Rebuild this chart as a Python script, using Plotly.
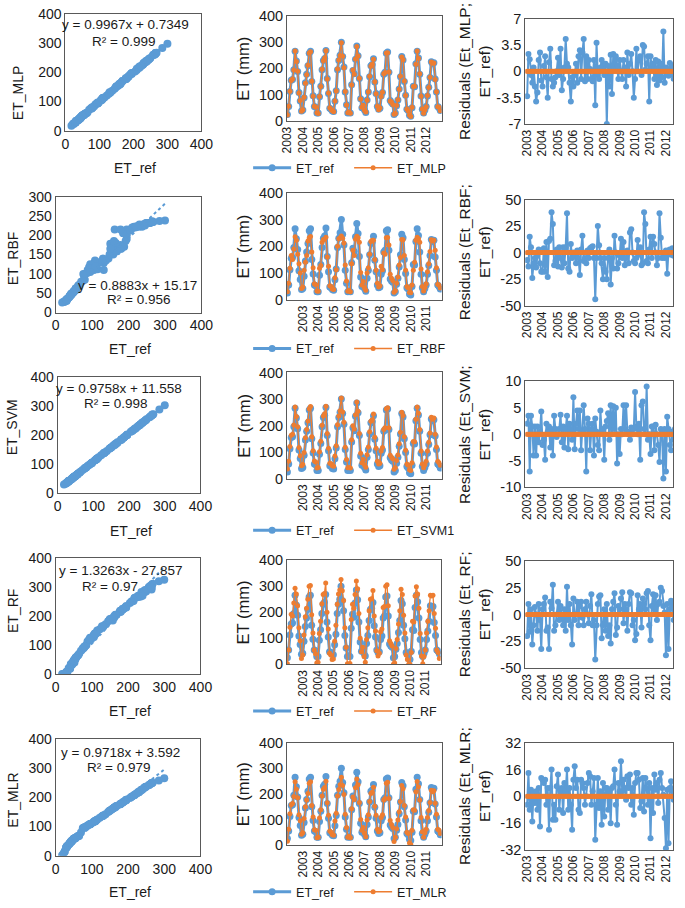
import plotly.graph_objects as go

# ---------------- data ----------------
YEARS = ["2003", "2004", "2005", "2006", "2007", "2008", "2009", "2010", "2011", "2012"]

ET_REF = [25, 55, 112, 155, 158, 195, 265, 228, 188, 108, 76, 38,
          42, 88, 145, 178, 210, 258, 265, 150, 96, 55, 52, 30,
          30, 92, 132, 195, 230, 238, 268, 162, 105, 48, 45, 38,
          36, 75, 115, 195, 230, 250, 300, 245, 205, 110, 62, 30,
          32, 30, 138, 192, 180, 235, 285, 248, 162, 85, 50, 62,
          42, 32, 80, 110, 168, 210, 215, 237, 148, 105, 55, 45,
          48, 95, 108, 178, 185, 258, 262, 185, 78, 70, 65, 25,
          30, 58, 80, 122, 168, 245, 232, 150, 98, 45, 40, 22,
          18, 50, 132, 130, 218, 265, 240, 178, 95, 45, 30, 42,
          55, 95, 128, 165, 225, 218, 222, 160, 110, 55, 50, 40]

ET_MLP = [23, 56, 113, 154, 160, 194, 266, 226, 189, 106, 78, 37,
          43, 90, 144, 176, 212, 259, 263, 151, 94, 56, 53, 31,
          28, 93, 131, 197, 229, 240, 267, 160, 106, 50, 44, 39,
          35, 76, 114, 198, 232, 249, 298, 246, 203, 112, 61, 31,
          34, 29, 137, 194, 178, 236, 283, 247, 163, 84, 52, 60,
          41, 34, 79, 111, 170, 208, 216, 235, 149, 104, 56, 43,
          49, 93, 109, 180, 184, 259, 260, 186, 76, 72, 63, 26,
          28, 59, 81, 121, 170, 243, 233, 152, 97, 46, 38, 23,
          17, 52, 131, 132, 216, 266, 238, 180, 94, 46, 29, 43,
          54, 97, 127, 166, 224, 220, 221, 158, 111, 54, 52, 39]

ET_RBF = [30, 62, 118, 165, 150, 190, 235, 222, 170, 135, 100, 42,
          48, 110, 140, 165, 220, 232, 236, 178, 120, 60, 56, 33,
          32, 118, 128, 215, 225, 226, 234, 160, 125, 52, 50, 40,
          38, 82, 112, 200, 228, 232, 238, 230, 212, 130, 70, 32,
          35, 30, 135, 185, 165, 226, 237, 232, 215, 102, 55, 68,
          45, 36, 100, 120, 170, 218, 222, 222, 150, 110, 62, 48,
          52, 125, 112, 175, 170, 232, 233, 205, 95, 80, 72, 28,
          34, 62, 85, 130, 158, 225, 224, 165, 110, 50, 45, 27,
          26, 55, 110, 140, 222, 234, 228, 215, 115, 50, 33, 46,
          60, 105, 135, 180, 224, 220, 222, 185, 120, 58, 54, 44]

ET_SVM = [36, 65, 121, 163, 167, 202, 270, 234, 195, 117, 86, 48,
          53, 98, 154, 185, 217, 263, 272, 158, 105, 66, 62, 40,
          42, 101, 141, 201, 236, 244, 273, 170, 114, 58, 56, 48,
          46, 85, 124, 203, 236, 256, 304, 251, 212, 118, 72, 41,
          42, 40, 146, 199, 187, 241, 289, 254, 170, 95, 60, 72,
          52, 43, 90, 119, 176, 216, 222, 243, 156, 114, 65, 55,
          58, 104, 117, 185, 192, 263, 267, 192, 88, 80, 75, 35,
          41, 68, 89, 131, 175, 250, 238, 158, 107, 55, 50, 33,
          30, 60, 140, 139, 224, 270, 246, 185, 104, 55, 41, 52,
          65, 104, 137, 172, 231, 224, 228, 167, 119, 65, 60, 50]

ET_RF = [2, 55, 142, 192, 185, 235, 292, 270, 225, 140, 90, 22,
         35, 112, 182, 215, 250, 300, 302, 190, 120, 55, 40, 5,
         8, 118, 165, 232, 268, 272, 312, 200, 135, 42, 35, 18,
         20, 88, 150, 230, 270, 285, 325, 282, 245, 140, 65, 2,
         0, 3, 172, 230, 215, 268, 320, 290, 195, 100, 48, 65,
         30, 8, 95, 140, 205, 250, 252, 283, 185, 128, 52, 32,
         42, 125, 135, 218, 222, 300, 305, 225, 90, 80, 70, 0,
         5, 60, 95, 155, 205, 288, 268, 188, 120, 35, 18, 0,
         0, 45, 165, 162, 262, 298, 270, 215, 118, 32, 2, 30,
         55, 120, 165, 205, 265, 262, 265, 195, 138, 55, 45, 22]

ET_MLR = [15, 62, 122, 158, 162, 190, 248, 218, 185, 118, 95, 42,
          48, 104, 150, 176, 202, 242, 248, 155, 110, 60, 58, 28,
          30, 106, 138, 192, 218, 225, 250, 165, 116, 55, 50, 40,
          38, 94, 124, 192, 217, 236, 265, 233, 198, 120, 68, 30,
          34, 28, 142, 188, 178, 224, 258, 236, 166, 100, 58, 68,
          46, 32, 98, 118, 170, 202, 206, 226, 152, 116, 62, 52,
          56, 108, 118, 176, 182, 242, 246, 182, 96, 80, 68, 14,
          30, 64, 98, 130, 170, 233, 220, 155, 110, 50, 45, 8,
          2, 58, 138, 136, 208, 249, 228, 176, 108, 52, 30, 48,
          62, 108, 135, 166, 214, 208, 212, 163, 120, 62, 58, 45]

RES_MLP = [-3.3, 2.3, 1.6, -0.5, -1.5, 0.5, -2.0, -4.0, -2.8, 1.5, 2.5, -1.2,
           -2.0, 0.7, 2.0, -0.8, -3.5, 1.2, 3.0, -1.0, -2.0, -1.5, -0.8, 0.0,
           1.8, -0.5, 3.0, -2.5, -1.0, 0.5, 4.3, 1.0, 0.5, -1.5, -4.0, -0.8,
           -2.0, -0.5, 1.0, -1.5, 2.0, 2.8, -1.0, 2.5, 4.3, -1.3, 2.0, -1.0,
           1.5, 0.3, -1.0, -1.3, 1.5, -4.5, 3.8, -0.5, -1.0, 0.5, 1.5, 0.7,
           -0.5, 1.0, -7.0, 0.7, -2.0, 2.2, -3.0, 2.3, 0.5, 2.0, 0.8, -1.0,
           1.5, 0.0, -1.0, 1.5, 0.5, -2.0, 2.5, -0.5, 1.0, 2.3, 0.0, -3.5,
           -1.0, 3.0, 0.0, 1.5, 2.0, -0.5, 3.5, 3.3, 0.2, 1.0, 2.0, -4.0,
           2.0, 0.5, 1.0, -1.0, 1.5, -1.8, 1.3, -1.2, 1.0, -0.8, 5.3, -1.5,
           0.5, 0.3, -0.6, 1.1, -0.4, 0.8, -1.0, 0.6, 0.4, -0.7, 0.9, -0.3]

RES_RBF = [-7, -13, 15, 5, -24, -10, -5, -14, -3, 3, -10, -18,
           -18, 4, -18, 10, -23, 11, 13, 38, 27, -12, -8, 3,
           -13, 5, -5, -14, 5, -10, 5, 37, -15, -18, 8, -5,
           0, -2, -10, 2, -5, -21, 3, 16, -8, -5, -10, 2,
           -5, 4, 5, 6, -5, -44, -5, 25, 7, -5, -10, -25,
           -5, -18, -25, -5, 3, -30, -5, -15, 16, 0, -15, -10,
           -3, 13, -5, 10, -12, -5, 2, -10, 19, 22, 0, -8,
           -10, -5, 12, -2, 5, -12, -10, 38, 27, -8, -10, 3,
           15, -5, 15, 8, 0, -12, -5, 37, 14, -5, -3, -5,
           2, -20, 2, 3, -2, 4, -3, 1, -4, 2, 0, -1]

RES_SVM = [2.0, 3.5, -7.0, 3.5, 1.5, -4.0, 1.5, -4.0, 1.5, -1.5, 0.5, 4.3,
           -2.0, -1.0, -4.8, 2.0, 0.5, 1.5, -2.5, 1.0, -4.0, 3.5, 1.0, -0.5,
           0.0, 1.0, 3.7, -1.5, 1.5, -2.5, 1.0, 3.5, -2.8, 2.0, 1.0, -1.0,
           7.0, -2.8, 2.0, 4.5, 1.0, 4.5, -3.0, 0.5, 5.5, 1.0, -7.0, 3.0,
           2.0, -3.0, 1.0, 2.0, -4.0, 3.0, 0.5, -2.0, -3.0, 4.5, 0.5, 1.0,
           -4.8, 1.5, 2.5, 4.0, -1.0, 5.5, 0.0, 5.3, 1.0, 5.0, -5.5, 0.0,
           -3.7, 1.0, 0.0, 5.5, 1.0, 5.5, 0.5, 0.0, -1.0, 1.3, 0.0, 1.0,
           8.0, 1.5, 0.0, 2.0, -4.8, 5.5, 6.2, 1.0, 0.0, 9.0, -1.0, 0.0,
           -3.7, 1.5, 1.5, -3.0, 1.8, 0.0, -2.0, -5.2, 1.0, 0.5, -8.3, 1.0,
           -7.0, 3.3, 1.0, -2.0, -3.0, 0.5, -1.0, 1.0, 0.0, -0.5, 0.8, -0.2]

RES_RF = [-20, 10, -16, 5, -28, -10, 7, 0, -15, 10, -5, -32,
          5, 10, 16, -15, -12, -32, 12, 6, 28, -15, -10, 0,
          12, -5, 8, -3, -10, 5, -15, 26, -5, 10, -10, -28,
          15, -5, 0, 12, -10, 8, 12, -3, -10, 5, 12, 0,
          -8, 8, 19, -10, -5, -42, -10, 10, 17, 18, -22, -10,
          5, -15, 10, -20, -10, -27, 5, 12, 20, -19, -12, 8,
          5, 15, 21, -8, 10, 5, -15, 10, 21, 20, -10, -5,
          -24, -18, 18, 5, 10, -12, 15, 10, 5, 20, 22, -10,
          -24, 8, 19, 5, 18, -5, 10, 12, 25, 22, 8, 2,
          -38, 10, -32, 5, 13, 8, -5, 10, -3, 5, 0, 2]

RES_MLR = [-5, 14, -8, 4, -15, 2, -4, 3, -8, 5, -18, 11,
           10, 8, 10, -5, 5, -20, 5, 16, -14, -5, -14, 6,
           13, -8, 3, 5, -10, 8, 3, 16, -8, 5, -5, -20,
           10, 18, 5, 10, -8, -10, 10, 8, 5, -5, 0, 8,
           14, 12, -5, 3, 11, -26, -5, 11, -7, 3, -17, 8,
           -12, 5, 5, -8, 3, -16, 5, 6, 16, -5, -17, 8,
           3, 21, 3, 10, 5, -2, 12, 5, 13, -5, 5, -11,
           8, 14, 14, 10, -7, -3, 11, -9, 11, 5, -5, 8,
           -25, 5, -10, 13, 4, 8, -4, 10, 14, 5, 1, -13,
           -31, 4, -28, 5, 9, 3, -2, 5, 0, 1, -3, 2]

RES_ZERO = [0, 0, 0, 0, 0, 0, 0, 0, 0, 0, 0, 0,
            0, 0, 0, 0, 0, 0, 0, 0, 0, 0, 0, 0,
            0, 0, 0, 0, 0, 0, 0, 0, 0, 0, 0, 0,
            0, 0, 0, 0, 0, 0, 0, 0, 0, 0, 0, 0,
            0, 0, 0, 0, 0, 0, 0, 0, 0, 0, 0, 0,
            0, 0, 0, 0, 0, 0, 0, 0, 0, 0, 0, 0,
            0, 0, 0, 0, 0, 0, 0, 0, 0, 0, 0, 0,
            0, 0, 0, 0, 0, 0, 0, 0, 0, 0, 0, 0,
            0, 0, 0, 0, 0, 0, 0, 0, 0, 0, 0, 0,
            0, 0, 0, 0, 0, 0, 0, 0, 0, 0, 0, 0]

MODEL_SERIES = [ET_MLP, ET_RBF, ET_SVM, ET_RF, ET_MLR]
RESIDUALS = [RES_MLP, RES_RBF, RES_SVM, RES_RF, RES_MLR]
LEGEND_NAMES = ["ET_MLP", "ET_RBF", "ET_SVM1", "ET_RF", "ET_MLR"]
SCATTER_YTITLES = ["ET_MLP", "ET_RBF", "ET_SVM", "ET_RF", "ET_MLR"]
RES_TITLES = ["Residuals (Et_MLP;<br>ET_ref)", "Residuals (Et_RBF;<br>ET_ref)",
              "Residuals (Et_SVM;<br>ET_ref)", "Residuals (Et_RF;<br>ET_ref)",
              "Residuals (Et_MLR;<br>ET_ref)"]
SLOPES = [0.9967, 0.8883, 0.9758, 1.3263, 0.9718]
INTERCEPTS = [0.7349, 15.17, 11.558, -27.857, 3.592]
EQ_TEXT = ["y = 0.9967x + 0.7349", "y = 0.8883x + 15.17", "y = 0.9758x + 11.558",
           "y = 1.3263x - 27.857", "y = 0.9718x + 3.592"]
R2_TEXT = ["R² = 0.999", "R² = 0.956", "R² = 0.998", "R² = 0.97", "R² = 0.979"]

SCATTER_X_TICKS = [0, 100, 200, 300, 400]
SCATTER_Y_TICKS = [[0, 100, 200, 300, 400], [0, 50, 100, 150, 200, 250, 300],
                   [0, 100, 200, 300, 400], [0, 100, 200, 300, 400], [0, 100, 200, 300, 400]]
TS_Y_TICKS = [0, 100, 200, 300, 400]
RES_TICKS = [[7, 3.5, 0, -3.5, -7], [50, 25, 0, -25, -50], [10, 5, 0, -5, -10],
             [50, 25, 0, -25, -50], [32, 16, 0, -16, -32]]
RES_TICKTEXT = [["7", "3.5", "0", "-3.5", "-7"], ["50", "25", "0", "-25", "-50"],
                ["10", "5", "0", "-5", "-10"], ["50", "25", "0", "-25", "-50"],
                ["32", "16", "0", "-16", "-32"]]

# ---------------- style / layout ----------------
W, H = 685, 908
BLUE = "#5B9BD5"
ORANGE = "#ED7D31"
FRAME = "#595959"
TXT = "#1a1a1a"
FONT = "Liberation Sans, Arial, sans-serif"

SC_BOX = [(60, 200, 6, 125), (50, 200, 192, 310), (52, 199, 376, 494),
          (50, 199, 560, 678), (50, 199, 744, 863)]
TS_BOX = [(288, 447, 8, 115), (288, 447, 188, 297), (288, 447, 371, 479),
          (288, 446, 562, 668), (288, 447, 748, 852)]
RS_BOX = [(533, 685, 11, 118), (533, 685, 195, 303), (533, 685, 380, 488),
          (533, 685, 563, 672), (533, 685, 748, 857)]
EQ_POS = [(122, 17), (134, 282), (115, 387), (117, 573), (117, 758)]
R2_POS = [(120, 34), (135, 297), (112, 403), (106, 589), (115, 773)]
XT_POS = [(132, 163), (127, 347), (128, 532), (127, 716), (127, 900)]
YT_POS = [(12, 87), (6, 255), (6, 427), (6, 614), (6, 806)]
LEG_Y = [163, 347, 532, 716, 900]


def xdom(b):
    return [b[0] / W, min(1.0, b[1] / W)]


def ydom(b):
    return [1 - b[3] / H, 1 - b[2] / H]


def axis_style(domain, rng, anchor, tickvals, ticktext=None, size=14, angle=None):
    d = dict(domain=domain, range=rng, anchor=anchor, showline=True, mirror=True,
             linecolor=FRAME, linewidth=1, showgrid=False, zeroline=False, ticks="",
             tickvals=tickvals, tickfont=dict(size=size, color=TXT, family=FONT))
    if ticktext is not None:
        d["ticktext"] = ticktext
    if angle is not None:
        d["tickangle"] = angle
    return d


def ann(text, px, py, size, angle=0):
    return dict(text=text, x=px / W, y=1 - py / H, xref="paper", yref="paper",
                showarrow=False, xanchor="center", yanchor="middle", textangle=angle,
                font=dict(size=size, color=TXT, family=FONT))


fig = go.Figure()
layout = {}
annotations = []
idx = list(range(len(ET_REF)))

for r in range(5):
    k_sc, k_ts, k_rs = 3 * r + 1, 3 * r + 2, 3 * r + 3
    leg = "legend" if r == 0 else "legend%d" % (r + 1)
    model = MODEL_SERIES[r]

    # scatter
    fig.add_trace(go.Scatter(x=ET_REF, y=model, mode="markers",
                             marker=dict(size=8, color=BLUE), showlegend=False,
                             xaxis="x%d" % k_sc, yaxis="y%d" % k_sc))
    x_lo, x_hi = min(ET_REF), max(ET_REF)
    fig.add_trace(go.Scatter(x=[x_lo, x_hi],
                             y=[SLOPES[r] * x_lo + INTERCEPTS[r], SLOPES[r] * x_hi + INTERCEPTS[r]],
                             mode="lines", line=dict(color=BLUE, width=2, dash="dot"),
                             showlegend=False, xaxis="x%d" % k_sc, yaxis="y%d" % k_sc))
    yt = SCATTER_Y_TICKS[r]
    layout["xaxis%d" % k_sc] = axis_style(xdom(SC_BOX[r]), [0, 400], "y%d" % k_sc, SCATTER_X_TICKS)
    layout["yaxis%d" % k_sc] = axis_style(ydom(SC_BOX[r]), [0, yt[-1]], "x%d" % k_sc, yt)

    # time series
    fig.add_trace(go.Scatter(x=idx, y=ET_REF, mode="lines+markers", name="ET_ref",
                             line=dict(color=BLUE, width=3), marker=dict(size=7, color=BLUE),
                             legend=leg, legendwidth=48,
                             xaxis="x%d" % k_ts, yaxis="y%d" % k_ts))
    fig.add_trace(go.Scatter(x=idx, y=model, mode="lines+markers", name=LEGEND_NAMES[r],
                             line=dict(color=ORANGE, width=1.3), marker=dict(size=5, color=ORANGE),
                             legend=leg, legendwidth=90,
                             xaxis="x%d" % k_ts, yaxis="y%d" % k_ts))
    if r == 0:
        tv, tt = [12 * i for i in range(len(YEARS))], YEARS
    else:
        tv, tt = [12 * (i + 1) for i in range(len(YEARS) - 1)], YEARS[:-1]
    layout["xaxis%d" % k_ts] = axis_style(xdom(TS_BOX[r]), [-0.3, 120], "y%d" % k_ts, tv, tt,
                                          size=12, angle=-90)
    layout["yaxis%d" % k_ts] = axis_style(ydom(TS_BOX[r]), [0, 400], "x%d" % k_ts, TS_Y_TICKS,
                                          size=14.5)
    layout[leg] = dict(orientation="h", x=248 / W, y=1 - LEG_Y[r] / H, xanchor="left",
                       yanchor="middle", font=dict(size=12.5, color=TXT, family=FONT),
                       bgcolor="rgba(0,0,0,0)", entrywidthmode="pixels",
                       itemwidth=38)

    # residuals
    res = RESIDUALS[r]
    fig.add_trace(go.Scatter(x=list(range(len(res))), y=res, mode="lines+markers",
                             line=dict(color=BLUE, width=2), marker=dict(size=6, color=BLUE),
                             showlegend=False, xaxis="x%d" % k_rs, yaxis="y%d" % k_rs))
    fig.add_trace(go.Scatter(x=list(range(len(RES_ZERO))), y=RES_ZERO, mode="lines+markers",
                             line=dict(color=ORANGE, width=4.5), marker=dict(size=5, color=ORANGE),
                             showlegend=False, xaxis="x%d" % k_rs, yaxis="y%d" % k_rs))
    rt = RES_TICKS[r]
    layout["xaxis%d" % k_rs] = axis_style(xdom(RS_BOX[r]), [-1.5, 113.5], "y%d" % k_rs,
                                          [12 * i for i in range(len(YEARS))], YEARS,
                                          size=12, angle=-90)
    layout["yaxis%d" % k_rs] = axis_style(ydom(RS_BOX[r]), [rt[-1], rt[0]], "x%d" % k_rs, rt,
                                          RES_TICKTEXT[r], size=14.5)

    # texts
    annotations.append(ann(EQ_TEXT[r], EQ_POS[r][0], EQ_POS[r][1], 13.5))
    annotations.append(ann(R2_TEXT[r], R2_POS[r][0], R2_POS[r][1], 13.5))
    annotations.append(ann("ET_ref", XT_POS[r][0], XT_POS[r][1], 14))
    annotations.append(ann(SCATTER_YTITLES[r], YT_POS[r][0], YT_POS[r][1], 14, -90))
    annotations.append(ann("ET (mm)", 243, (TS_BOX[r][2] + TS_BOX[r][3]) / 2, 16.5, -90))
    annotations.append(ann(RES_TITLES[r], 481, (RS_BOX[r][2] + RS_BOX[r][3]) / 2, 15.5, -90))

fig.update_layout(width=W, height=H, margin=dict(l=0, r=0, t=0, b=0),
                  paper_bgcolor="white", plot_bgcolor="white",
                  font=dict(family=FONT, color=TXT), annotations=annotations, **layout)

PAGE_FIX = ("document.documentElement.style.margin='0';document.documentElement.style.padding='0';"
            "document.documentElement.style.overflow='hidden';"
            "document.body.style.margin='0';document.body.style.padding='0';"
            "document.body.style.overflow='hidden';")

fig.write_html("out.html", post_script=PAGE_FIX, config={"displayModeBar": False})
